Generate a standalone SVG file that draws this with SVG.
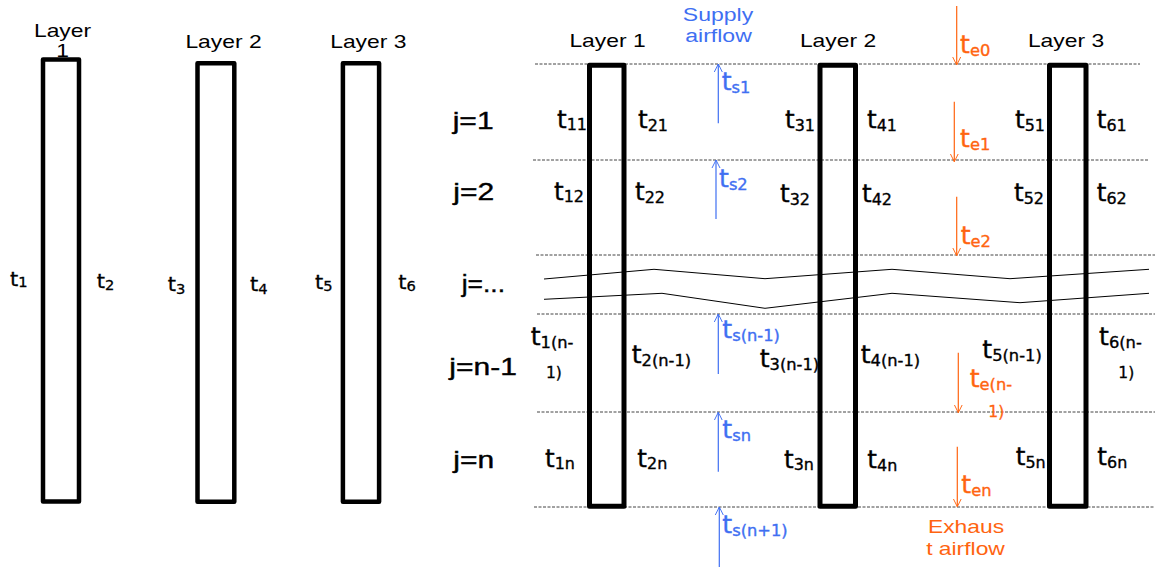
<svg xmlns="http://www.w3.org/2000/svg" width="1155" height="567" viewBox="0 0 1155 567">
<style>
text{font-family:"Liberation Sans",Arial,sans-serif;fill:#000}
.t{font-family:"DejaVu Sans",sans-serif;font-size:24px;stroke:#000;stroke-width:0.35}
.tL{font-family:"DejaVu Sans",sans-serif;font-size:20px;stroke:#000;stroke-width:0.3}
.s{font-size:15.5px}
.sL{font-size:14px}
.s2{font-family:"DejaVu Sans",sans-serif;font-size:15.5px;stroke:#000;stroke-width:0.3}
.lbl{font-size:18px}
.j{font-size:24px;stroke:#000;stroke-width:0.4}
.blue{fill:#3f6ff2;stroke:#3f6ff2}
.orange{fill:#ff6410;stroke:#ff6410}
.lbl.blue,.lbl.orange{stroke:none}
.mid{text-anchor:middle}
.layer{fill:none;stroke:#000;stroke-linejoin:round}
.dash{stroke:#444;stroke-width:1;stroke-dasharray:3 1.5;fill:none}
.zig{stroke:#000;stroke-width:1;fill:none}
.sup{stroke:#3f6ff2;stroke-width:1.2;fill:none;marker-end:url(#aB)}
.exh{stroke:#ff6410;stroke-width:1.2;fill:none;marker-end:url(#aO)}
</style>
<defs>
<marker id="aB" viewBox="0 0 10 10" refX="10" refY="5" markerWidth="8" markerHeight="10" markerUnits="userSpaceOnUse" orient="auto"><path d="M0,0 L10,5 L0,10" fill="none" stroke="#3f6ff2" stroke-width="1.2"/></marker>
<marker id="aO" viewBox="0 0 10 10" refX="10" refY="5" markerWidth="8" markerHeight="10" markerUnits="userSpaceOnUse" orient="auto"><path d="M0,0 L10,5 L0,10" fill="none" stroke="#ff6410" stroke-width="1.2"/></marker>
</defs>
<rect width="1155" height="567" fill="#fff"/>

<!-- Left panel -->
<g id="left-labels">
<text class="lbl mid" transform="translate(62.5,36.5) scale(1.27,1)">Layer</text>
<text class="lbl mid" transform="translate(62.5,57) scale(1.27,1)">1</text>
<text class="lbl mid" transform="translate(223.5,47.7) scale(1.27,1)">Layer 2</text>
<text class="lbl mid" transform="translate(368.3,47.7) scale(1.27,1)">Layer 3</text>
<text class="tL" transform="translate(10,286) scale(1.05,1)">t<tspan class="sL" dy="1">1</tspan></text>
<text class="tL" transform="translate(96.7,288) scale(1.05,1)">t<tspan class="sL" dy="2">2</tspan></text>
<text class="tL" transform="translate(167.7,291) scale(1.05,1)">t<tspan class="sL" dy="2.5">3</tspan></text>
<text class="tL" transform="translate(250,291) scale(1.05,1)">t<tspan class="sL" dy="2.5">4</tspan></text>
<text class="tL" transform="translate(315,289) scale(1.05,1)">t<tspan class="sL" dy="2">5</tspan></text>
<text class="tL" transform="translate(398.3,289) scale(1.05,1)">t<tspan class="sL" dy="2">6</tspan></text>
</g>
<g id="left-layer1"><rect class="layer" stroke-width="4.5" x="43" y="59.5" width="36" height="442"/></g>
<g id="left-layer2"><rect class="layer" stroke-width="4.5" x="197.5" y="63.2" width="36.8" height="438.6"/></g>
<g id="left-layer3"><rect class="layer" stroke-width="4.5" x="342.9" y="63.2" width="36.2" height="438.6"/></g>

<!-- Right panel: grid lines -->
<g id="grid">
<line class="dash" x1="535" y1="64" x2="1140" y2="64"/>
<line class="dash" x1="533" y1="160" x2="1149" y2="160"/>
<line class="dash" x1="536" y1="255" x2="1155" y2="255"/>
<line class="dash" x1="537" y1="314" x2="1155" y2="314"/>
<line class="dash" x1="537" y1="412" x2="1155" y2="412"/>
<line class="dash" x1="534" y1="507" x2="1155" y2="507"/>
<polyline class="zig" points="544,279 654,269.3 765,278.7 892,269.3 1010,278.7 1149,269.3"/>
<polyline class="zig" points="544,299.3 662,293.3 765,308.3 892,293.3 1020,302.7 1149,293.3"/>
</g>

<g id="right-headers">
<text class="lbl mid" transform="translate(607.5,46.7) scale(1.27,1)">Layer 1</text>
<text class="lbl mid" transform="translate(838,46.7) scale(1.27,1)">Layer 2</text>
<text class="lbl mid" transform="translate(1066,46.7) scale(1.27,1)">Layer 3</text>
<text class="lbl mid blue" transform="translate(718,20.7) scale(1.28,1)">Supply</text>
<text class="lbl mid blue" transform="translate(718.5,42.3) scale(1.28,1)">airflow</text>
<text class="lbl mid orange" transform="translate(966,533.3) scale(1.27,1)">Exhaus</text>
<text class="lbl mid orange" transform="translate(965.5,555) scale(1.27,1)">t airflow</text>
</g>

<g id="row-labels">
<text class="j" transform="translate(452.7,129.3) scale(1.25,1)">j=1</text>
<text class="j" transform="translate(453.3,200) scale(1.25,1)">j=2</text>
<text class="j" transform="translate(461.7,291.7) scale(1.1,1)">j=...</text>
<text class="j" transform="translate(449.3,375) scale(1.25,1)">j=n-1</text>
<text class="j" transform="translate(453.3,468.3) scale(1.25,1)">j=n</text>
</g>

<g id="temperatures">
<text class="t" transform="translate(557,128) scale(1.03,1)">t<tspan class="s" dy="2">11</tspan></text>
<text class="t" transform="translate(638,128) scale(1.03,1)">t<tspan class="s" dy="2.5">21</tspan></text>
<text class="t" transform="translate(785,127.5) scale(1.03,1)">t<tspan class="s" dy="3">31</tspan></text>
<text class="t" transform="translate(867,127.5) scale(1.03,1)">t<tspan class="s" dy="3">41</tspan></text>
<text class="t" transform="translate(1015,128) scale(1.03,1)">t<tspan class="s" dy="2.5">51</tspan></text>
<text class="t" transform="translate(1096.7,128) scale(1.03,1)">t<tspan class="s" dy="2.5">61</tspan></text>
<text class="t" transform="translate(554,199.5) scale(1.03,1)">t<tspan class="s" dy="2">12</tspan></text>
<text class="t" transform="translate(635,200) scale(1.03,1)">t<tspan class="s" dy="2.5">22</tspan></text>
<text class="t" transform="translate(780,201.7) scale(1.03,1)">t<tspan class="s" dy="3">32</tspan></text>
<text class="t" transform="translate(862,201.7) scale(1.03,1)">t<tspan class="s" dy="3">42</tspan></text>
<text class="t" transform="translate(1014,201) scale(1.03,1)">t<tspan class="s" dy="2.5">52</tspan></text>
<text class="t" transform="translate(1096.7,201) scale(1.03,1)">t<tspan class="s" dy="2.5">62</tspan></text>

<text class="t" transform="translate(530.7,345) scale(1.05,1)">t<tspan class="s" dy="3">1(n-</tspan></text>
<text class="s2" transform="translate(546,378.3)">1)</text>
<text class="t" transform="translate(631.7,363.3) scale(1.05,1)">t<tspan class="s" dy="3">2(n-1)</tspan></text>
<text class="t" transform="translate(759.7,366.7) scale(1.05,1)">t<tspan class="s" dy="3">3(n-1)</tspan></text>
<text class="t" transform="translate(860.7,363.3) scale(1.05,1)">t<tspan class="s" dy="3">4(n-1)</tspan></text>
<text class="t" transform="translate(982.3,358.3) scale(1.05,1)">t<tspan class="s" dy="3">5(n-1)</tspan></text>
<text class="t" transform="translate(1099,345) scale(1.05,1)">t<tspan class="s" dy="3">6(n-</tspan></text>
<text class="s2" transform="translate(1118.3,378.3)">1)</text>

<text class="t" transform="translate(545,466.7) scale(1.03,1)">t<tspan class="s" dy="2">1n</tspan></text>
<text class="t" transform="translate(637.3,467.3) scale(1.03,1)">t<tspan class="s" dy="2">2n</tspan></text>
<text class="t" transform="translate(784,468) scale(1.03,1)">t<tspan class="s" dy="2">3n</tspan></text>
<text class="t" transform="translate(867.3,468.3) scale(1.03,1)">t<tspan class="s" dy="3">4n</tspan></text>
<text class="t" transform="translate(1015.7,465) scale(1.03,1)">t<tspan class="s" dy="3">5n</tspan></text>
<text class="t" transform="translate(1097.3,465) scale(1.03,1)">t<tspan class="s" dy="3">6n</tspan></text>
</g>

<g id="supply-labels">
<text class="t blue" transform="translate(721.7,90) scale(1.05,1)">t<tspan class="s" dy="3">s1</tspan></text>
<text class="t blue" transform="translate(719,187) scale(1.05,1)">t<tspan class="s" dy="3">s2</tspan></text>
<text class="t blue" transform="translate(722.3,338.3) scale(1.05,1)">t<tspan class="s" dy="3">s(n-1)</tspan></text>
<text class="t blue" transform="translate(722.3,438.3) scale(1.05,1)">t<tspan class="s" dy="3">sn</tspan></text>
<text class="t blue" transform="translate(722.3,533.3) scale(1.05,1)">t<tspan class="s" dy="3">s(n+1)</tspan></text>
</g>

<g id="exhaust-labels">
<text class="t orange" transform="translate(960,53.3) scale(1.05,1)">t<tspan class="s" dy="3">e0</tspan></text>
<text class="t orange" transform="translate(960,146.7) scale(1.05,1)">t<tspan class="s" dy="3">e1</tspan></text>
<text class="t orange" transform="translate(960.7,244) scale(1.05,1)">t<tspan class="s" dy="3">e2</tspan></text>
<text class="t orange" transform="translate(969.7,386.7) scale(1.05,1)">t<tspan class="s" dy="3">e(n-</tspan></text>
<text class="s2 orange" transform="translate(988.3,416.7)">1)</text>
<text class="t orange" transform="translate(961.3,493.3) scale(1.05,1)">t<tspan class="s" dy="3">en</tspan></text>
</g>

<g id="right-layer1"><rect class="layer" stroke-width="5" x="589.5" y="65.2" width="34.5" height="441"/></g>
<g id="right-layer2"><rect class="layer" stroke-width="5" x="820" y="65.2" width="35.5" height="441"/></g>
<g id="right-layer3"><rect class="layer" stroke-width="5" x="1049.5" y="65.2" width="36.5" height="441"/></g>

<g id="connectors">
<line class="sup" x1="718.3" y1="123.3" x2="718.3" y2="64"/>
<line class="sup" x1="716" y1="219" x2="716" y2="160"/>
<line class="sup" x1="718.3" y1="374" x2="718.3" y2="314"/>
<line class="sup" x1="718.3" y1="471.7" x2="718.3" y2="412.3"/>
<line class="sup" x1="719.3" y1="567" x2="719.3" y2="507"/>
<line class="exh" x1="956.7" y1="6" x2="956.7" y2="65"/>
<line class="exh" x1="954.3" y1="101.7" x2="954.3" y2="161.7"/>
<line class="exh" x1="956.7" y1="196.7" x2="956.7" y2="255.7"/>
<line class="exh" x1="958.3" y1="352.7" x2="958.3" y2="412.7"/>
<line class="exh" x1="957.3" y1="446.7" x2="957.3" y2="506.7"/>
</g>
</svg>
